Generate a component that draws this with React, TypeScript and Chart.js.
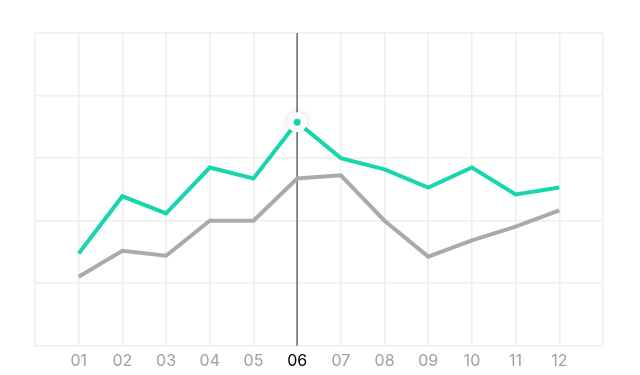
import React, { useEffect, useRef } from "react";
import { Chart, registerables } from "chart.js";

Chart.register(...registerables);

const months = ["01", "02", "03", "04", "05", "06", "07", "08", "09", "10", "11", "12"];
const seriesA = [29.5, 47.8, 42.3, 57, 53.5, 71.5, 60, 56.4, 50.6, 57, 48.4, 50.6];
const seriesB = [22.1, 30.4, 28.8, 40, 40, 53.5, 54.5, 40, 28.5, 33.7, 38.1, 43.3];
const activeIndex = 5;

const GREEN = "#17d6ad";
const GRAY = "#a9a9b0";

const highlightPlugin = {
  id: "highlight",
  beforeDatasetsDraw(chart: any) {
    const { ctx, chartArea, scales } = chart;
    const x = scales.x.getPixelForValue(activeIndex + 1);
    ctx.save();
    ctx.strokeStyle = "#6b6b6b";
    ctx.lineWidth = 1.5;
    ctx.beginPath();
    ctx.moveTo(x, chartArea.top);
    ctx.lineTo(x, chartArea.bottom);
    ctx.stroke();
    ctx.restore();
  },
  afterDatasetsDraw(chart: any) {
    const { ctx, scales } = chart;
    const x = scales.x.getPixelForValue(activeIndex + 1);
    const y = scales.y.getPixelForValue(seriesA[activeIndex]);
    ctx.save();
    ctx.shadowColor = "rgba(0,0,0,0.15)";
    ctx.shadowBlur = 7;
    ctx.fillStyle = "#ffffff";
    ctx.beginPath();
    ctx.arc(x, y, 10, 0, Math.PI * 2);
    ctx.fill();
    ctx.shadowColor = "transparent";
    ctx.shadowBlur = 0;
    ctx.fillStyle = GREEN;
    ctx.beginPath();
    ctx.arc(x, y, 3.5, 0, Math.PI * 2);
    ctx.fill();
    ctx.restore();
  },
};

export default function App() {
  const ref = useRef<HTMLCanvasElement | null>(null);
  useEffect(() => {
    if (!ref.current) return;
    const toPts = (arr: number[]) => arr.map((v, i) => ({ x: i + 1, y: v }));
    const chart = new Chart(ref.current, {
      type: "line",
      data: {
        datasets: [
          {
            data: toPts(seriesA),
            borderColor: GREEN,
            borderWidth: 4,
            pointRadius: 0,
            tension: 0,
            fill: false,
          },
          {
            data: toPts(seriesB),
            borderColor: GRAY,
            borderWidth: 4,
            pointRadius: 0,
            tension: 0,
            fill: false,
          },
        ],
      },
      options: {
        animation: false,
        responsive: false,
        maintainAspectRatio: false,
        layout: { padding: { left: 27, right: 29, top: 25, bottom: 0 } },
        plugins: { legend: { display: false }, tooltip: { enabled: false } },
        scales: {
          x: {
            type: "linear",
            min: 0,
            max: 13,
            border: { display: false },
            grid: { color: "#eeeeee", lineWidth: 1.5, drawTicks: false },
            ticks: {
              stepSize: 1,
              padding: 6,
              autoSkip: false,
              maxRotation: 0,
              font: { family: "Inter", size: 16 },
              color: (c: any) => (c.tick && c.tick.value === activeIndex + 1 ? "#000000" : "#a0a0a0"),
              callback: (v: any) => {
                const n = Number(v);
                if (n < 1 || n > 12) return "";
                return months[n - 1];
              },
            },
          },
          y: {
            min: 0,
            max: 100,
            border: { display: false },
            grid: { color: "#eeeeee", lineWidth: 1.5, drawTicks: false },
            ticks: { display: false, stepSize: 20 },
          },
        },
      },
      plugins: [highlightPlugin],
    });
    return () => chart.destroy();
  }, []);
  return (
    <div style={{ width: 624, height: 369, marginBottom: -10 }}>
      <canvas ref={ref} width={624} height={369} style={{ display: "block" }} />
    </div>
  );
}
